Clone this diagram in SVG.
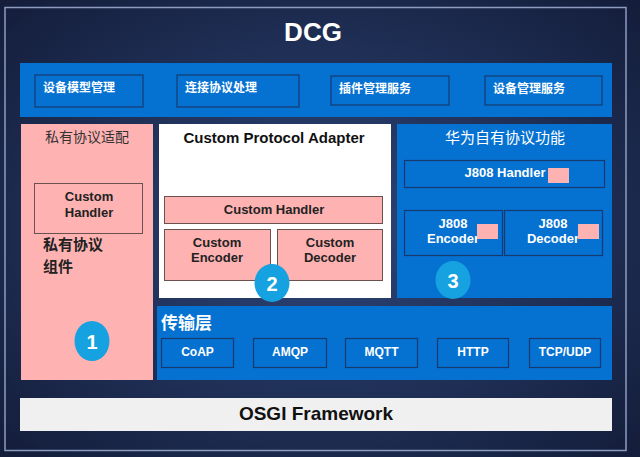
<svg xmlns="http://www.w3.org/2000/svg" width="640" height="457" viewBox="0 0 640 457">
<defs>
<radialGradient id="bg" cx="50%" cy="50%" r="70%">
<stop offset="0" stop-color="#2d4679"/>
<stop offset="1" stop-color="#141d3a"/>
</radialGradient>
<style>
.cn{font-family:"Noto Sans CJK SC","Noto Sans",sans-serif}
.en{font-family:"Liberation Sans",Arial,sans-serif;font-weight:bold}
.blue{fill:#0572d2}
.sub{fill:#0572d2;stroke:#163a6e;stroke-width:1.2}
.pink{fill:#ffb2b2}
.pbox{fill:#ffb2b2;stroke:#6b5050;stroke-width:1}
.wt{fill:#ffffff}
.dk{fill:#222222}
.num{fill:#16a2e0}
</style>
</defs>
<rect x="0" y="0" width="640" height="457" fill="url(#bg)"/>
<rect x="5" y="7.5" width="621" height="443" fill="none" stroke="#8e9cc0" stroke-width="1.5"/>
<text x="313" y="41" class="en wt" font-size="26" text-anchor="middle">DCG</text>

<g id="top-services">
<rect x="20" y="63" width="592" height="54" class="blue"/>
<rect x="35" y="75" width="108" height="32" class="sub"/>
<text x="43" y="92" class="cn wt" font-size="12" font-weight="bold">设备模型管理</text>
<rect x="177" y="75" width="122" height="32" class="sub"/>
<text x="185" y="92" class="cn wt" font-size="12" font-weight="bold">连接协议处理</text>
<rect x="331" y="76" width="118" height="29" class="sub"/>
<text x="339" y="93" class="cn wt" font-size="12" font-weight="bold">插件管理服务</text>
<rect x="485" y="76" width="117" height="29" class="sub"/>
<text x="493" y="93" class="cn wt" font-size="12" font-weight="bold">设备管理服务</text>
</g>

<g id="private-adapter">
<rect x="21" y="124" width="132" height="256" class="pink"/>
<text x="87" y="142" class="cn" fill="#333" font-size="14" text-anchor="middle">私有协议适配</text>
<rect x="34.5" y="183.5" width="108" height="50" fill="none" stroke="#6b5050" stroke-width="1"/>
<text x="89" y="201" class="en dk" font-size="13" text-anchor="middle">Custom</text>
<text x="89" y="217" class="en dk" font-size="13" text-anchor="middle">Handler</text>
<text x="43" y="250" class="cn dk" font-size="15" font-weight="bold">私有协议</text>
<text x="43" y="272" class="cn dk" font-size="15" font-weight="bold">组件</text>
</g>

<g id="custom-protocol-adapter">
<rect x="159" y="124" width="232" height="174" fill="#ffffff"/>
<text x="274" y="143" class="en" fill="#111" font-size="15" text-anchor="middle">Custom Protocol Adapter</text>
<rect x="164.5" y="196.5" width="218" height="27" class="pbox"/>
<text x="274" y="214" class="en dk" font-size="13" text-anchor="middle">Custom Handler</text>
<rect x="164.5" y="229.5" width="106" height="51" class="pbox"/>
<text x="217" y="247" class="en dk" font-size="13" text-anchor="middle">Custom</text>
<text x="217" y="262" class="en dk" font-size="13" text-anchor="middle">Encoder</text>
<rect x="277.5" y="229.5" width="105" height="51" class="pbox"/>
<text x="330" y="247" class="en dk" font-size="13" text-anchor="middle">Custom</text>
<text x="330" y="262" class="en dk" font-size="13" text-anchor="middle">Decoder</text>
</g>

<g id="huawei-protocol">
<rect x="397" y="124" width="215" height="174" class="blue"/>
<text x="505" y="143" class="cn wt" font-size="15" text-anchor="middle">华为自有协议功能</text>
<rect x="404.5" y="160.5" width="200" height="27" class="sub"/>
<text x="505" y="177" class="en wt" font-size="13" text-anchor="middle">J808 Handler</text>
<rect x="548" y="168" width="21" height="15" class="pink"/>
<rect x="404.5" y="210.5" width="98" height="45" class="sub"/>
<text x="453" y="228" class="en wt" font-size="13" text-anchor="middle">J808</text>
<text x="453" y="243" class="en wt" font-size="13" text-anchor="middle">Encoder</text>
<rect x="477" y="224" width="21" height="15" class="pink"/>
<rect x="504.5" y="210.5" width="98" height="45" class="sub"/>
<text x="553" y="228" class="en wt" font-size="13" text-anchor="middle">J808</text>
<text x="553" y="243" class="en wt" font-size="13" text-anchor="middle">Decoder</text>
<rect x="578" y="224" width="21" height="15" class="pink"/>
</g>

<g id="transport">
<rect x="157" y="306" width="455" height="74" class="blue"/>
<text x="161" y="329" class="cn wt" font-size="17" font-weight="bold">传输层</text>
<rect x="161.5" y="338.5" width="72" height="29" class="sub"/>
<text x="197.5" y="356" class="en wt" font-size="12" text-anchor="middle">CoAP</text>
<rect x="253.5" y="338.5" width="73" height="29" class="sub"/>
<text x="290" y="356" class="en wt" font-size="12" text-anchor="middle">AMQP</text>
<rect x="345.5" y="338.5" width="72" height="29" class="sub"/>
<text x="381.5" y="356" class="en wt" font-size="12" text-anchor="middle">MQTT</text>
<rect x="437.5" y="338.5" width="71" height="29" class="sub"/>
<text x="473" y="356" class="en wt" font-size="12" text-anchor="middle">HTTP</text>
<rect x="529.5" y="338.5" width="71" height="29" class="sub"/>
<text x="565" y="356" class="en wt" font-size="12" text-anchor="middle">TCP/UDP</text>
</g>

<g id="osgi">
<rect x="20" y="398" width="592" height="33" fill="#f0f0f0"/>
<text x="316" y="420" class="en" fill="#111" font-size="19" text-anchor="middle">OSGI Framework</text>
</g>

<g id="badges">
<ellipse cx="92" cy="341" rx="17.5" ry="20" class="num"/>
<text x="92" y="349" class="en wt" font-size="20" text-anchor="middle">1</text>
<ellipse cx="272" cy="283" rx="17.5" ry="19" class="num"/>
<text x="272" y="291" class="en wt" font-size="20" text-anchor="middle">2</text>
<ellipse cx="453" cy="280" rx="17.5" ry="19" class="num"/>
<text x="453" y="288" class="en wt" font-size="20" text-anchor="middle">3</text>
</g>
<g id="connectors"/>
</svg>
